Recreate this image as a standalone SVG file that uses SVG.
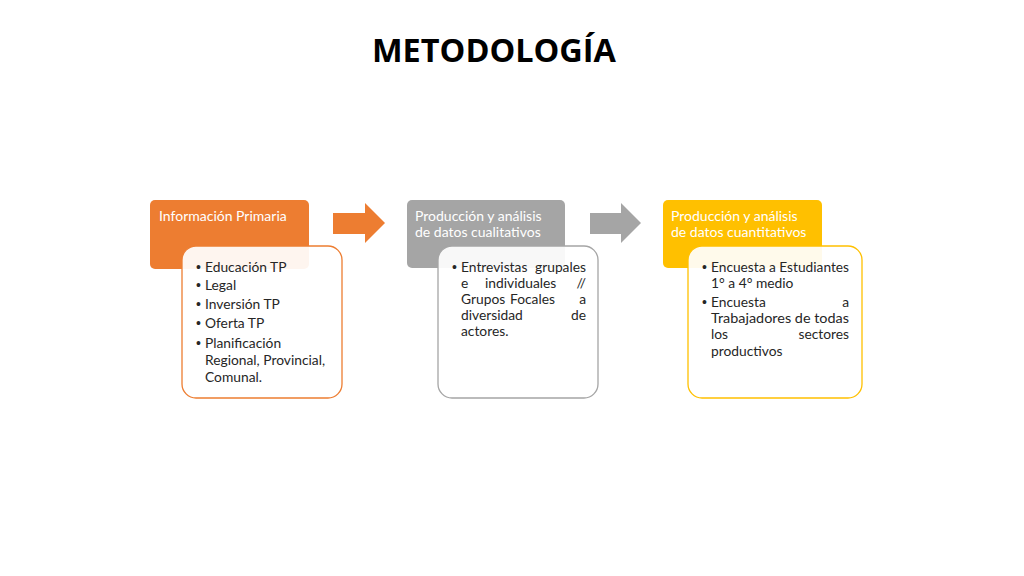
<svg xmlns="http://www.w3.org/2000/svg" width="1024" height="576" viewBox="0 0 1024 576">
<style>
.t{font-family:Lato,"Open Sans","Liberation Sans",sans-serif;font-size:13.8px;fill:#262626}
.b{font-family:"Liberation Sans",sans-serif;font-size:14px;fill:#262626}
.h{font-family:Lato,"Open Sans","Liberation Sans",sans-serif;font-size:14px;fill:#ffffff}
.title{font-family:"Open Sans",Lato,"Liberation Sans",sans-serif;font-size:33px;font-weight:bold;fill:#000}
.card{fill:#ffffff;fill-opacity:0.92;stroke-width:1.3}
</style>
<rect width="1024" height="576" fill="#ffffff"/>
<text class="title" x="494" y="62" text-anchor="middle" textLength="244" lengthAdjust="spacingAndGlyphs">METODOLOGÍA</text>

<g id="connectors">
<polygon points="333,213 365,213 365,203 385,223 365,243 365,234 333,234" fill="#ED7D31"/>
<polygon points="590,213 621,213 621,203 641,223 621,243 621,234 590,234" fill="#A5A5A5"/>
</g>

<g id="node1">
<rect x="150" y="200" width="159" height="69" rx="5" fill="#ED7D31"/>
<text class="h" x="159" y="221">Información Primaria</text>
<rect class="card" x="182" y="246" width="160" height="152" rx="14" stroke="#ED7D31"/>
<text class="b" x="196" y="272">•</text><text class="t" x="205" y="272">Educación TP</text>
<text class="b" x="196" y="290">•</text><text class="t" x="205" y="290">Legal</text>
<text class="b" x="196" y="309">•</text><text class="t" x="205" y="309">Inversión TP</text>
<text class="b" x="196" y="328">•</text><text class="t" x="205" y="328">Oferta TP</text>
<text class="b" x="196" y="348">•</text><text class="t" x="205" y="348">Planificación</text>
<text class="t" x="205" y="365">Regional, Provincial,</text>
<text class="t" x="205" y="382">Comunal.</text>
</g>

<g id="node2">
<rect x="407" y="200" width="158" height="68" rx="5" fill="#A5A5A5"/>
<text class="h" x="415" y="221">Producción y análisis</text>
<text class="h" x="415" y="237">de datos cualitativos</text>
<rect class="card" x="438" y="246" width="160" height="152" rx="14" stroke="#A5A5A5"/>
<text class="b" x="452" y="272">•</text>
<text class="t" x="461" y="272">Entrevistas</text><text class="t" x="586" y="272" text-anchor="end">grupales</text>
<text class="t" x="461" y="288">e</text><text class="t" x="485" y="288">individuales</text><text class="t" x="586" y="288" text-anchor="end">//</text>
<text class="t" x="461" y="304">Grupos</text><text class="t" x="510" y="304">Focales</text><text class="t" x="586" y="304" text-anchor="end">a</text>
<text class="t" x="461" y="320">diversidad</text><text class="t" x="586" y="320" text-anchor="end">de</text>
<text class="t" x="461" y="336">actores.</text>
</g>

<g id="node3">
<rect x="663" y="200" width="159" height="68" rx="5" fill="#FFC000"/>
<text class="h" x="671" y="221">Producción y análisis</text>
<text class="h" x="671" y="237">de datos cuantitativos</text>
<rect class="card" x="688" y="246" width="174" height="152" rx="14" stroke="#FFC000"/>
<text class="b" x="702" y="272">•</text>
<text class="t" x="711" y="272" textLength="138" lengthAdjust="spacingAndGlyphs">Encuesta a Estudiantes</text>
<text class="t" x="711" y="288">1° a 4° medio</text>
<text class="b" x="702" y="307">•</text>
<text class="t" x="711" y="307">Encuesta</text><text class="t" x="849" y="307" text-anchor="end">a</text>
<text class="t" x="711" y="323" textLength="138" lengthAdjust="spacingAndGlyphs">Trabajadores de todas</text>
<text class="t" x="711" y="339">los</text><text class="t" x="849" y="339" text-anchor="end">sectores</text>
<text class="t" x="711" y="356">productivos</text>
</g>
</svg>
